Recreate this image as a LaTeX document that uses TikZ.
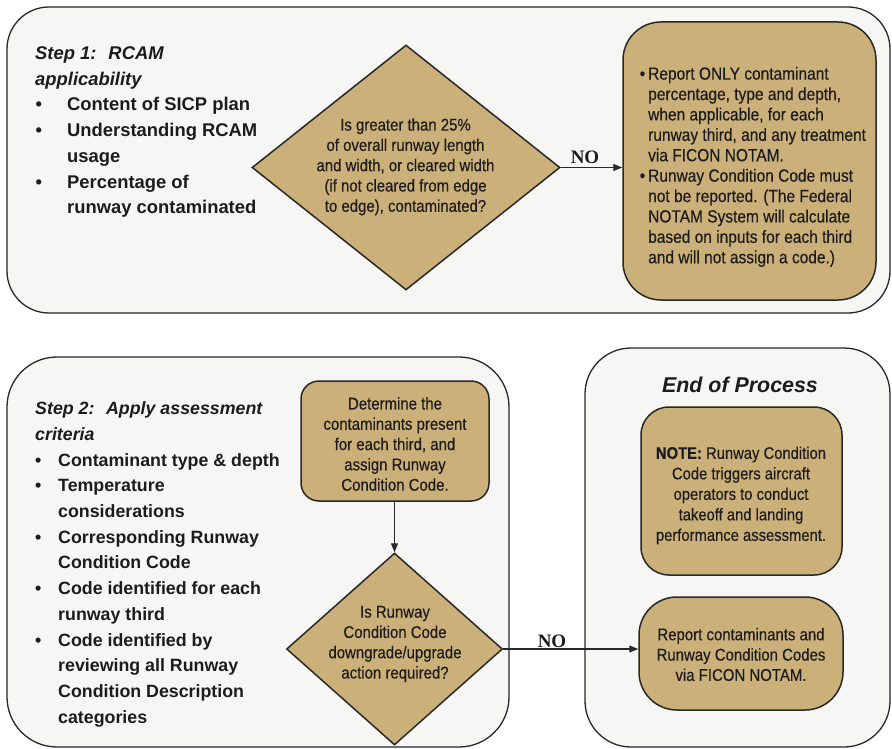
\documentclass[tikz,border=0pt]{standalone}
\usepackage{fontspec}
\setmainfont{Liberation Sans}
\newfontfamily\condfont[FakeStretch=0.88,FakeBold=0.35]{Liberation Sans}
\newfontfamily\nofont{Liberation Serif}
\usetikzlibrary{shapes.geometric,arrows.meta}
\definecolor{tanfill}{RGB}{203,176,122}
\definecolor{panelbg}{RGB}{246,246,244}
\definecolor{txt}{RGB}{28,28,28}
\definecolor{edge}{RGB}{40,40,40}
\tikzset{
  panel/.style={draw=edge, line width=1.3pt, fill=panelbg, rectangle, inner sep=0pt},
  tanbox/.style={draw=edge, line width=1.5pt, fill=tanfill, rectangle, inner sep=0pt},
  decision/.style={draw=edge, line width=1.5pt, fill=tanfill, diamond, inner sep=0pt},
  body/.style={text=txt, inner sep=0pt, align=center, font=\condfont\fontsize{17}{20.3}\selectfont},
  leftlist/.style={text=txt, inner sep=0pt, align=left, anchor=north west},
  nolab/.style={text=txt, inner sep=0pt, font=\nofont\bfseries\fontsize{19}{19}\selectfont},
  arr/.style={draw=edge, line width=1.2pt, -{Triangle[length=9pt,width=7pt]}}
}
\begin{document}
\begin{tikzpicture}[x=1pt,y=-1pt]
\useasboundingbox (0,0) rectangle (892,749);
\fill[white] (0,0) rectangle (892,749);

% panels
\node[panel, rounded corners=42pt, minimum width=883pt, minimum height=306pt] (p1) at (448.5,160) {};
\node[panel, rounded corners=50pt, minimum width=502pt, minimum height=390pt] (p2) at (258,552) {};
\node[panel, rounded corners=46pt, minimum width=305pt, minimum height=399pt] (p3) at (737.5,547.5) {};

% step 1 text
\node[leftlist, font=\fontsize{18.4}{25.7}\selectfont\bfseries] (s1) at (35,46.5) {%
  \itshape Step 1:~ RCAM\\
  \itshape applicability\\
  \makebox[32pt][l]{\hspace{0.5pt}\textbullet}Content of SICP plan\\
  \makebox[32pt][l]{\hspace{0.5pt}\textbullet}Understanding RCAM\\
  \hspace*{32pt}usage\\
  \makebox[32pt][l]{\hspace{0.5pt}\textbullet}Percentage of\\
  \hspace*{32pt}runway contaminated};

% diamond 1
\node[decision, minimum width=308pt, minimum height=245pt] (d1) at (406,167.5) {};
\node[body] (d1t) at (405.5,166.8) {Is greater than 25\%\\ of overall runway length\\ and width, or cleared width\\ (if not cleared from edge\\ to edge), contaminated?};

% box 1
\node[tanbox, rounded corners=38pt, minimum width=253pt, minimum height=278pt] (b1) at (749.5,161) {};
\node[body, align=left, anchor=north west, font=\condfont\fontsize{17.6}{20.4}\selectfont] (b1t) at (648,66.7) {%
  \llap{\textbullet\hspace{3pt}}Report ONLY contaminant\\
  percentage, type and depth,\\
  when applicable, for each\\
  runway third, and any treatment\\
  via FICON NOTAM.\\
  \llap{\textbullet\hspace{3pt}}Runway Condition Code must\\
  not be reported. (The Federal\\
  NOTAM System will calculate\\
  based on inputs for each third\\
  and will not assign a code.)};

\node[nolab] (no1) at (585,157) {NO};
\draw[arr] (d1.east) -- (d1.east -| b1.west);

% step 2 text
\node[leftlist, font=\fontsize{17.8}{25.7}\selectfont\bfseries] (s2) at (35,401.6) {%
  \itshape Step 2:~ Apply assessment\\
  \itshape criteria\\
  \makebox[23pt][l]{\textbullet}Contaminant type \& depth\\
  \makebox[23pt][l]{\textbullet}Temperature\\
  \hspace*{23pt}considerations\\
  \makebox[23pt][l]{\textbullet}Corresponding Runway\\
  \hspace*{23pt}Condition Code\\
  \makebox[23pt][l]{\textbullet}Code identified for each\\
  \hspace*{23pt}runway third\\
  \makebox[23pt][l]{\textbullet}Code identified by\\
  \hspace*{23pt}reviewing all Runway\\
  \hspace*{23pt}Condition Description\\
  \hspace*{23pt}categories};

% determine box
\node[tanbox, rounded corners=18pt, minimum width=188pt, minimum height=120pt] (det) at (395,441) {};
\node[body] (dett) at (395,444) {Determine the\\ contaminants present\\ for each third, and\\ assign Runway\\ Condition Code.};

% diamond 2
\node[decision, minimum width=216pt, minimum height=192pt] (d2) at (394.5,649) {};
\node[body] (d2t) at (395,644) {Is Runway\\ Condition Code\\ downgrade/upgrade\\ action required?};
\draw[arr] (det.south -| d2.north) -- (d2.north);

% end of process
\node[text=txt, inner sep=0pt, font=\fontsize{21.4}{24}\selectfont\bfseries\itshape] (eop) at (740,385) {End of Process};
\node[tanbox, rounded corners=28pt, minimum width=201pt, minimum height=168pt] (note) at (741.5,491) {};
\node[body, font=\condfont\fontsize{16.8}{20.5}\selectfont] (notet) at (741,495.5) {\textbf{NOTE:} Runway Condition\\ Code triggers aircraft\\ operators to conduct\\ takeoff and landing\\ performance assessment.};
\node[tanbox, rounded corners=38pt, minimum width=204pt, minimum height=113pt] (rep) at (741,653.5) {};
\node[body] (rept) at (741,654.5) {Report contaminants and\\ Runway Condition Codes\\ via FICON NOTAM.};

\node[nolab] (no2) at (552,641) {NO};
\draw[arr] (d2.east) -- (d2.east -| rep.west);
\end{tikzpicture}
\end{document}
